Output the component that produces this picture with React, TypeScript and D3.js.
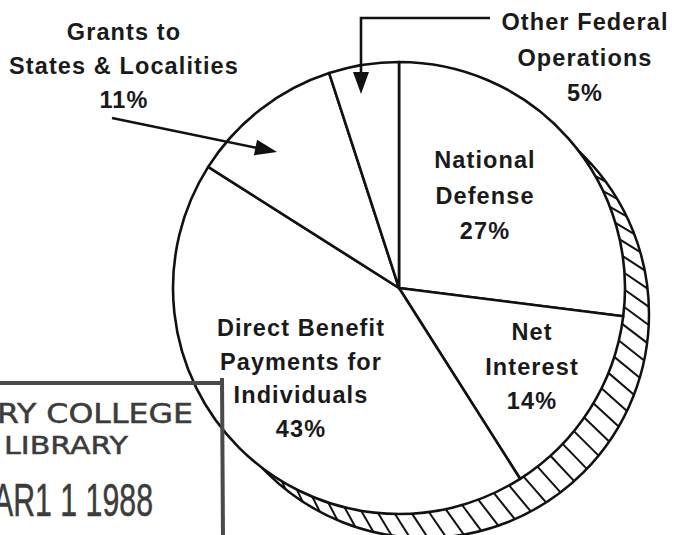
import React from "react";
import * as d3 from "d3";

// ---- data ----
const categories: string[][] = [
  ["National", "Defense"],
  ["Net", "Interest"],
  ["Direct Benefit", "Payments for", "Individuals"],
  ["Grants to", "States & Localities"],
  ["Other Federal", "Operations"],
];
const percents: number[] = [27, 14, 43, 11, 5];
const stampLines: string[] = ["RY COLLEGE", "LIBRARY", "AR1 1 1988"];

const W = 674;
const H = 535;

export default function App() {
  const cx = 399;
  const cy = 288;
  const r = 226;
  // shadow (3D edge) circle
  const sdx = 26;
  const sdy = 26;
  const R2 = 224;
  const c2x = cx + sdx;
  const c2y = cy + sdy;

  const pie = d3.pie<number>().sort(null).value((d) => d).startAngle(0).endAngle(2 * Math.PI);
  const arcs = pie(percents);
  const arcGen = d3.arc<d3.PieArcDatum<number>>().innerRadius(0).outerRadius(r);

  // hatch segments in shadow ring
  const hatch: { x1: number; y1: number; x2: number; y2: number }[] = [];
  const step = 17 / r;
  for (let th = -Math.PI / 2; th < Math.PI; th += step) {
    const px = cx + r * Math.cos(th);
    const py = cy + r * Math.sin(th);
    const wx = px - c2x;
    const wy = py - c2y;
    const w2 = wx * wx + wy * wy;
    if (w2 >= R2 * R2) continue;
    const deg = (th * 180) / Math.PI;
    const phi = ((35 + 0.25 * deg) * Math.PI) / 180;
    const ux = Math.cos(phi);
    const uy = Math.sin(phi);
    const b = wx * ux + wy * uy;
    const t = -b + Math.sqrt(b * b - (w2 - R2 * R2));
    if (t < 1) continue;
    hatch.push({ x1: px, y1: py, x2: px + t * ux, y2: py + t * uy });
  }

  // label layout: [center x, first baseline, line gap]
  const labelLayout: [number, number, number][] = [
    [485, 168, 35.5],
    [532, 340, 34.5],
    [301, 336, 33.5],
    [124, 40, 34],
    [585, 30, 35.5],
  ];

  const font = "'Liberation Sans', Arial, Helvetica, sans-serif";
  const fs = 23.5;

  const arrowHead = (x1: number, y1: number, x2: number, y2: number, len: number, half: number) => {
    const a = Math.atan2(y2 - y1, x2 - x1);
    const bx = x2 - len * Math.cos(a);
    const by = y2 - len * Math.sin(a);
    const nx = -Math.sin(a);
    const ny = Math.cos(a);
    return `M${x2},${y2}L${bx + half * nx},${by + half * ny}L${bx - half * nx},${by - half * ny}Z`;
  };

  return (
    <svg
      width={W}
      height={H}
      viewBox={`0 0 ${W} ${H}`}
      style={{ position: "absolute", left: 0, top: 0, background: "#fff" }}
    >
      <rect x={0} y={0} width={W} height={H} fill="#fff" />

      {/* shadow edge */}
      <circle cx={c2x} cy={c2y} r={R2} fill="#fff" stroke="#111" strokeWidth={2.5} />
      {hatch.map((h, i) => (
        <line key={i} x1={h.x1} y1={h.y1} x2={h.x2} y2={h.y2} stroke="#111" strokeWidth={2} />
      ))}

      {/* pie */}
      <g transform={`translate(${cx},${cy})`}>
        {arcs.map((a, i) => (
          <path key={i} d={arcGen(a) || ""} fill="#fff" stroke="#111" strokeWidth={2.6} strokeLinejoin="round" />
        ))}
      </g>

      {/* stamp */}
      <g fill="#3c3c3c" stroke="#3c3c3c" strokeWidth={0.5}>
        <line x1={-5} y1={383} x2={223} y2={383} stroke="#4a4a4a" strokeWidth={4} />
        <line x1={222} y1={378} x2={223} y2={540} stroke="#4a4a4a" strokeWidth={4} />
        <text x={193} y={423} textAnchor="end" fontFamily="'DejaVu Sans', sans-serif" fontSize={27} textLength={196} lengthAdjust="spacingAndGlyphs">
          {stampLines[0]}
        </text>
        <text x={128} y={454} textAnchor="end" fontFamily="'DejaVu Sans', sans-serif" fontSize={25} textLength={124} lengthAdjust="spacingAndGlyphs">
          {stampLines[1]}
        </text>
        <text x={153} y={516} textAnchor="end" fontFamily="'Liberation Sans', Arial, sans-serif" fontSize={46} textLength={160} lengthAdjust="spacingAndGlyphs">
          {stampLines[2]}
        </text>
      </g>

      {/* labels */}
      {categories.map((lines, i) => {
        const [x, y0, gap] = labelLayout[i];
        const all = [...lines, `${percents[i]}%`];
        return (
          <text key={i} fontFamily={font} fontWeight="bold" fontSize={fs} fill="#1a1a1a" textAnchor="middle" letterSpacing={1.1}>
            {all.map((s, j) => (
              <tspan key={j} x={x} y={y0 + j * gap}>
                {s}
              </tspan>
            ))}
          </text>
        );
      })}

      {/* arrow: Grants */}
      <line x1={112} y1={118} x2={262} y2={149} stroke="#111" strokeWidth={2.6} />
      <path d={arrowHead(112, 118, 277, 152, 22, 8)} fill="#111" />

      {/* arrow: Other Federal */}
      <polyline points="490,18 361,18 361,78" fill="none" stroke="#111" strokeWidth={2.6} />
      <path d={arrowHead(361, 18, 361, 94, 22, 8)} fill="#111" />
    </svg>
  );
}
